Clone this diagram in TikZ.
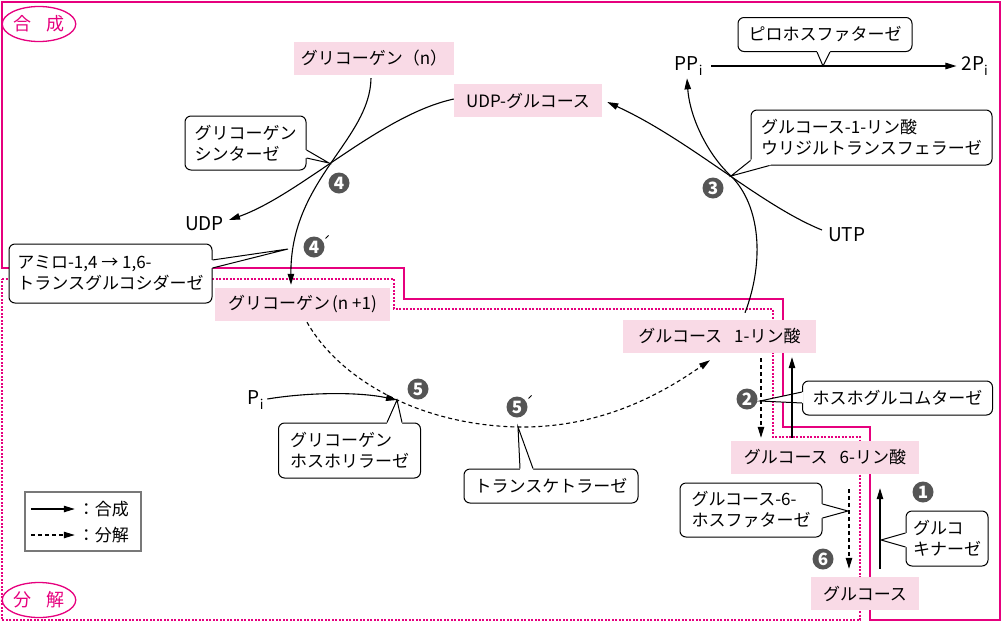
\documentclass[tikz,border=0pt]{standalone}
\usepackage{fontspec}
\setmainfont{Noto Sans CJK JP}
\usetikzlibrary{arrows.meta,calc,shapes.geometric}
\definecolor{mag}{RGB}{230,0,126}
\definecolor{pinkfill}{RGB}{249,218,230}
\definecolor{numgray}{RGB}{85,85,85}
\definecolor{leggray}{RGB}{120,120,120}
\newcommand{\ptrwedge}[4]{%
  \path #1 coordinate (pwa) #3 coordinate (pwb);
  \fill[white] (pwa) -- #2 -- (pwb) -- ($(pwb)+#4$) -- ($(pwa)+#4$) -- cycle;
  \draw[cline, line join=miter] (pwa) -- #2 -- (pwb);}
\tikzset{
  pbox/.style={fill=pinkfill, inner sep=0pt, minimum height=33pt},
  cbox/.style={draw, fill=white, rounded corners=6pt, line width=1pt, align=left, inner sep=0pt},
  cline/.style={line width=1pt},
  flow/.style={line width=1.1pt},
  arr/.style={-{Triangle[length=11pt,width=6.5pt]}},
  dsh/.style={dash pattern=on 4pt off 3pt},
  numc/.style={circle, fill=numgray, text=white, inner sep=0pt, minimum size=21pt, font=\fontsize{17}{17}\selectfont\bfseries},
  lbl/.style={inner sep=0pt, font=\fontsize{19}{21}\selectfont},
  frame/.style={mag, line width=1.3pt},
  dframe/.style={mag, line width=1.1pt, dash pattern=on 2pt off 1.5pt},
  tag/.style={draw=mag, ellipse, line width=1.3pt, text=mag, minimum width=68pt, minimum height=35pt, inner sep=0pt, font=\fontsize{18}{18}\selectfont},
}
\begin{document}
\begin{tikzpicture}[x=1pt,y=-1pt, font=\fontsize{17}{21}\selectfont]
\useasboundingbox (0,0) rectangle (1002,622);
% frames
\draw[dframe] (2,279) -- (394,279) -- (394,309) -- (773,309) -- (773,437) -- (860,437) -- (860,620) -- (2,620) -- cycle;
\draw[frame] (2,268) -- (2,2) -- (1000,2) -- (1000,620) -- (870,620) -- (870,427) -- (783,427) -- (783,299) -- (404,299) -- (404,268) -- cycle;
% tags
\node[tag] (gosei) at (39,24) {合\hspace{16pt}成};
\node[tag] (bunkai) at (39,600) {分\hspace{16pt}解};
% pink boxes
\node[pbox, minimum width=160pt] (gn) at (374,58) {グリコーゲン（n）};
\node[pbox, minimum width=148pt] (udpg) at (528,100.5) {UDP-グルコース};
\node[pbox, minimum width=175pt] (gn1) at (302.5,304.5) {グリコーゲン\kern2pt(n +1)};
\node[pbox, minimum width=193pt] (g1p) at (719.5,336.5) {グルコース\hspace{12pt}1-リン酸};
\node[pbox, minimum width=188pt] (g6p) at (825,457.5) {グルコース\hspace{12pt}6-リン酸};
\node[pbox, minimum width=108pt] (glc) at (865,593.5) {グルコース};
% plain labels
\node[lbl, anchor=east] (udp) at (224,224) {UDP};
\node[lbl, anchor=west] (utp) at (828,235) {UTP};
\node[lbl] (ppi) at (689,66) {PP\textsubscript{i}};
\node[lbl] (p2) at (975,66) {2P\textsubscript{i}};
\node[lbl] (pi) at (256,400) {P\textsubscript{i}};
% tip coordinates
\coordinate (x4) at (329,163);
\coordinate (x4p) at (288,249);
\coordinate (x3) at (731,176);
\coordinate (xpp) at (823,66);
\coordinate (x2) at (760,401);
\coordinate (x5) at (397,400);
\coordinate (x5p) at (518,427);
\coordinate (x6) at (848,511);
\coordinate (x1) at (881,540);
% callouts
\node[cbox, minimum width=121pt, minimum height=54pt] (syn) at (245.5,143) {グリコーゲン\\シンターゼ};
\ptrwedge{([yshift=-7pt]syn.east)}{(x4)}{([yshift=-15pt]syn.east)}{(-1.5,0)}
\node[cbox, minimum width=203pt, minimum height=59pt] (amy) at (110.5,273.5) {アミロ-1,4 → 1,6-\\トランスグルコシダーゼ};
\ptrwedge{([yshift=13.5pt]amy.east)}{(x4p)}{([yshift=5.5pt]amy.east)}{(-1.5,0)}
\node[cbox, minimum width=241pt, minimum height=55pt] (ugt) at (871.5,137.5) {グルコース-1-リン酸\\ウリジルトランスフェラーゼ};
\ptrwedge{([yshift=5pt]ugt.south west)}{(x3)}{([xshift=19pt]ugt.south west)}{(1.5,-1.5)}
\node[cbox, minimum width=174pt, minimum height=34pt] (ppase) at (825,34.5) {ピロホスファターゼ};
\ptrwedge{([xshift=-8pt]ppase.south)}{(xpp)}{([xshift=5pt]ppase.south)}{(0,-1.5)}
\node[cbox, minimum width=190pt, minimum height=34pt] (pgm) at (897.5,398) {ホスホグルコムターゼ};
\ptrwedge{([yshift=6pt]pgm.west)}{(x2)}{([yshift=-5pt]pgm.west)}{(1.5,0)}
\node[cbox, minimum width=142pt, minimum height=55pt] (gp) at (349.5,450.5) {グリコーゲン\\ホスホリラーゼ};
\ptrwedge{([xshift=37.5pt]gp.north)}{(x5)}{([xshift=52.5pt]gp.north)}{(0,1.5)}
\node[cbox, minimum width=174pt, minimum height=34pt] (tk) at (551,486) {トランスケトラーゼ};
\ptrwedge{([xshift=-31pt]tk.north)}{(x5p)}{([xshift=-18pt]tk.north)}{(0,1.5)}
\node[cbox, minimum width=142pt, minimum height=54pt] (g6pase) at (751,510) {グルコース-6-\\ホスファターゼ};
\ptrwedge{([yshift=6pt]g6pase.east)}{(x6)}{([yshift=-8pt]g6pase.east)}{(-1.5,0)}
\node[cbox, minimum width=82pt, minimum height=55pt] (gk) at (947,538.5) {グルコ\\キナーゼ};
\ptrwedge{([yshift=5.5pt]gk.west)}{(x1)}{([yshift=-8.5pt]gk.west)}{(1.5,0)}
% legend
\node[draw=leggray, line width=2.5pt, minimum width=116pt, minimum height=59pt, inner sep=0pt] (lg) at (83,521.5) {};
\draw[flow, arr] ([xshift=7pt,yshift=12.5pt]lg.west) -- ([xshift=51pt,yshift=12.5pt]lg.west);
\draw[flow, arr, dsh] ([xshift=7pt,yshift=-13.5pt]lg.west) -- ([xshift=51pt,yshift=-13.5pt]lg.west);
\node[inner sep=0pt, anchor=west] (lgs) at ([xshift=54pt,yshift=12.5pt]lg.west) {：合成};
\node[inner sep=0pt, anchor=west] (lgd) at ([xshift=54pt,yshift=-13.5pt]lg.west) {：分解};
% flows: synthesis
\draw[flow, arr] ([xshift=-3pt,yshift=-3.5pt]gn.south) .. controls (370,140) and (290,180) .. ([xshift=-11.5pt,yshift=3pt]gn1.north);
\draw[flow, arr] ([yshift=1.5pt]udpg.west) .. controls (380,115) and (300,195) .. ([xshift=5pt,yshift=4pt]udp.east);
\draw[flow, arr] ([xshift=25.5pt,yshift=7pt]g1p.north) .. controls (765,260) and (760,205) .. (x3) .. controls (710,157) and (690,120) .. ([xshift=-2pt,yshift=-3pt]ppi.south);
\draw[flow, arr] ([xshift=-6pt,yshift=5pt]utp.west) .. controls (760,205) and (690,140) .. ([xshift=5pt,yshift=-1.5pt]udpg.east);
\draw[flow, arr] ([xshift=8pt]ppi.east) -- ([xshift=-5pt]p2.west);
% flows: degradation
\draw[flow, arr, dsh] ([xshift=4.5pt,yshift=-1pt]gn1.south) .. controls (340,380) and (420,425) .. (x5p) .. controls (600,428) and (660,395) .. ([xshift=-9.5pt,yshift=-7pt]g1p.south);
\draw[flow, arr] ([xshift=3pt,yshift=1pt]pi.east) .. controls (310,392) and (360,392) .. (x5);
\draw[flow, arr, dsh] ([xshift=41.5pt,yshift=-5pt]g1p.south) -- ([xshift=-64pt,yshift=3pt]g6p.north);
\draw[flow, arr] ([xshift=-33pt,yshift=3pt]g6p.north) -- ([xshift=72.5pt,yshift=-4pt]g1p.south);
\draw[flow, arr, dsh] ([xshift=24pt,yshift=-15pt]g6p.south) -- ([xshift=-16pt,yshift=8pt]glc.north);
\draw[flow, arr] ([xshift=15pt,yshift=8pt]glc.north) -- ([xshift=55pt,yshift=-14pt]g6p.south);
% step numbers
\node[numc] (n1) at (923,492) {1};
\node[numc] (n2) at (747,399) {2};
\node[numc] (n3) at (713,188) {3};
\node[numc] (n4) at (339,183) {4};
\node[numc] (n4p) at (314,247) {4};
\node[numc] (n5) at (418,389) {5};
\node[numc] (n5p) at (517,407) {5};
\node[numc] (n6) at (823,559) {6};
\draw[line width=1pt] ([xshift=4pt,yshift=1pt]n4p.north east) -- ++(3,-3);
\draw[line width=1pt] ([xshift=4pt,yshift=1pt]n5p.north east) -- ++(3,-3);
\end{tikzpicture}
\end{document}
